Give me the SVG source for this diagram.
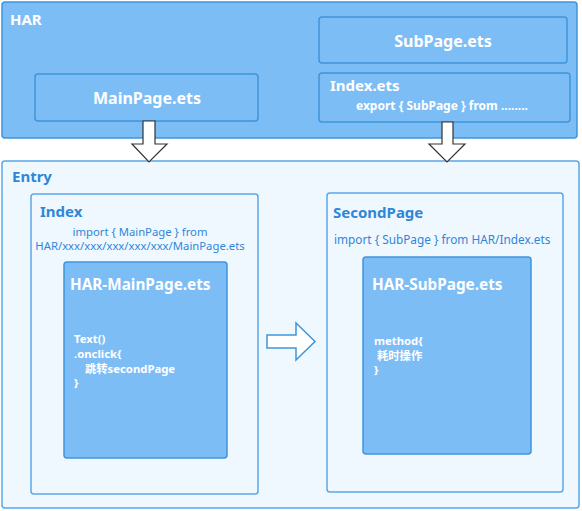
<svg xmlns="http://www.w3.org/2000/svg" width="582" height="511" viewBox="0 0 582 511">
<style>
.dark{fill:#7dbdf6;stroke:#3f95dc;stroke-width:1.5}
.light{fill:#f0f8ff;stroke:#5aa6e6;stroke-width:1.5}
text{font-family:"Noto Sans","Noto Sans CJK SC",sans-serif}
.w{fill:#ffffff;font-weight:bold}
.b{fill:#2f86d8}
.bb{fill:#2f86d8;font-weight:bold}
.s{font-size:11.3px}
.arrowDown{fill:#ffffff;stroke:#333333;stroke-width:1.2}
.arrowRight{fill:#ffffff;stroke:#3f95dc;stroke-width:1.5}
</style>
<g id="har">
<rect class="dark" x="2" y="2" width="575" height="136" rx="3"/>
<text class="w" x="10" y="25" font-size="15">HAR</text>
</g>
<g id="mainpage">
<rect class="dark" x="35" y="74" width="223" height="47" rx="3"/>
<text class="w" x="147" y="104" font-size="16" text-anchor="middle">MainPage.ets</text>
</g>
<g id="subpage">
<rect class="dark" x="319" y="17" width="248" height="46" rx="3"/>
<text class="w" x="443" y="47" font-size="16" text-anchor="middle">SubPage.ets</text>
</g>
<g id="indexets">
<rect class="dark" x="319" y="73" width="251" height="49" rx="3"/>
<text class="w" x="330" y="91" font-size="15">Index.ets</text>
<text class="w" x="356" y="110" font-size="12">export { SubPage } from ........</text>
</g>
<g id="entry">
<rect class="light" x="2" y="161" width="577" height="347" rx="3"/>
<text class="bb" x="12" y="182" font-size="15">Entry</text>
</g>
<g id="index">
<rect class="light" x="31" y="194" width="227" height="300" rx="3"/>
<text class="bb" x="40" y="217" font-size="15">Index</text>
<text class="b s" x="140" y="236" text-anchor="middle">import { MainPage } from</text>
<text class="b s" x="140" y="250" text-anchor="middle">HAR/xxx/xxx/xxx/xxx/xxx/MainPage.ets</text>
</g>
<g id="har-mainpage">
<rect class="dark" x="64" y="262" width="163" height="196" rx="3"/>
<text class="w" x="70" y="290" font-size="15.3">HAR-MainPage.ets</text>
<text class="w s" x="74" y="343">Text()</text>
<text class="w s" x="74" y="358">.onclick{</text>
<text class="w s" x="85" y="373">跳转secondPage</text>
<text class="w s" x="74" y="387">}</text>
</g>
<g id="secondpage">
<rect class="light" x="327" y="193" width="236" height="299" rx="3"/>
<text class="bb" x="333" y="218" font-size="15">SecondPage</text>
<text class="b" x="334" y="244" font-size="11.8">import { SubPage } from HAR/Index.ets</text>
</g>
<g id="har-subpage">
<rect class="dark" x="363" y="257" width="168" height="197" rx="3"/>
<text class="w" x="372" y="290" font-size="15.3">HAR-SubPage.ets</text>
<text class="w s" x="374" y="345">method{</text>
<text class="w s" x="377" y="360">耗时操作</text>
<text class="w s" x="374" y="374">}</text>
</g>
<g id="connectors">
<polygon class="arrowDown" points="143,121 155,121 155,144 167,144 149,162 132,144 143,144"/>
<polygon class="arrowDown" points="442,122 453,122 453,144 465,144 447,162 429,144 442,144"/>
<polygon class="arrowRight" points="267,335 296,335 296,323 315,341.5 296,360 296,348 267,348"/>
</g>
</svg>
